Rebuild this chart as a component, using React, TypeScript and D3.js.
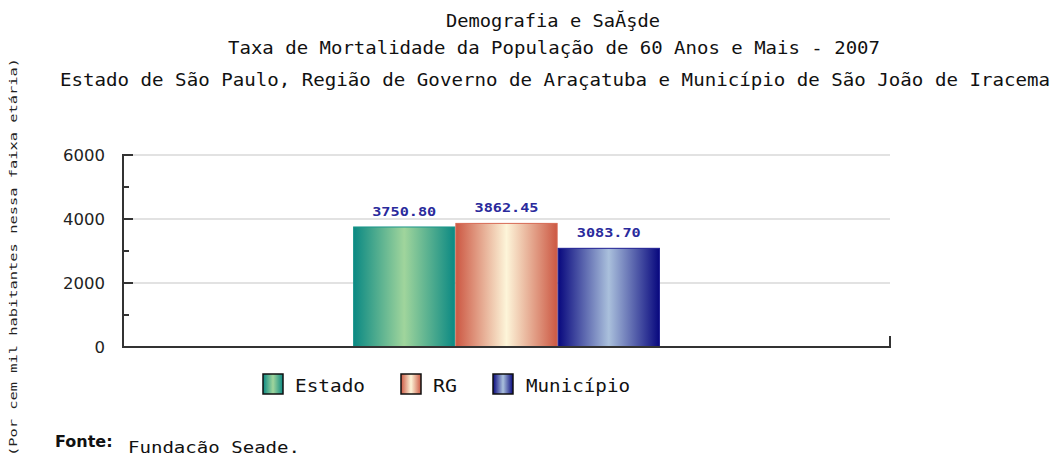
import React from "react";
import * as d3 from "d3";

const series = ["Estado", "RG", "Município"];
const values = [3750.8, 3862.45, 3083.7];
const valueLabels = ["3750.80", "3862.45", "3083.70"];
const yTicks = [0, 2000, 4000, 6000];
const yMinorTicks = [1000, 3000, 5000];
const titles = [
  "Demografia e SaĂşde",
  "Taxa de Mortalidade da População de 60 Anos e Mais - 2007",
  "Estado de São Paulo, Região de Governo de Araçatuba e Município de São João de Iracema",
];
const yLabel = "(Por cem mil habitantes nessa faixa etária)";
const source = "Fundacão Seade.";

const gradients = [
  { id: "g0", edge: "#0b8983", mid: "#a0d59c", stroke: "#1a968b" },
  { id: "g1", edge: "#cc5843", mid: "#fdf5d9", stroke: "#d66a55" },
  { id: "g2", edge: "#08087e", mid: "#aac0dc", stroke: "#1c1c92" },
];

const W = 1053;
const H = 457;
const plot = { left: 123, right: 890, top: 155, bottom: 347 };
const mono = "'DejaVu Sans Mono', monospace";
const sans = "'DejaVu Sans', Verdana, sans-serif";

export default function App() {
  const y = d3.scaleLinear().domain([0, 6000]).range([plot.bottom, plot.top]);
  const pw = plot.right - plot.left;
  const gw = pw * 0.4;
  const gx0 = plot.left + (pw - gw) / 2;
  const x = d3.scaleBand<string>().domain(series).range([gx0, gx0 + gw]).padding(0);

  const titleLayout = [
    { x: 446, y: 27, len: 214 },
    { x: 228, y: 54, len: 652 },
    { x: 60, y: 86, len: 990 },
  ];
  const legendLayout = [
    { sx: 263, tx: 295, len: 70 },
    { sx: 401, tx: 433, len: 24 },
    { sx: 493, tx: 526, len: 104 },
  ];

  return (
    <svg
      width={W}
      height={H}
      style={{ position: "absolute", left: 0, top: 0, background: "#fff" }}
    >
      <defs>
        {gradients.map((g) => (
          <linearGradient key={g.id} id={g.id} x1="0" x2="1" y1="0" y2="0">
            <stop offset="0" stopColor={g.edge} />
            <stop offset="0.5" stopColor={g.mid} />
            <stop offset="1" stopColor={g.edge} />
          </linearGradient>
        ))}
      </defs>

      {titles.map((t, i) => (
        <text
          key={i}
          x={titleLayout[i].x}
          y={titleLayout[i].y}
          textLength={titleLayout[i].len}
          lengthAdjust="spacingAndGlyphs"
          fontFamily={mono}
          fontSize={17}
          fill="#111"
        >
          {t}
        </text>
      ))}

      <text
        transform="translate(17,257) rotate(-90)"
        textAnchor="middle"
        textLength={398}
        lengthAdjust="spacingAndGlyphs"
        fontFamily={mono}
        fontSize={11}
        fill="#222"
      >
        {yLabel}
      </text>

      {/* gridlines */}
      {yTicks
        .filter((t) => t > 0)
        .map((t) => (
          <line
            key={t}
            x1={plot.left}
            x2={plot.right}
            y1={y(t)}
            y2={y(t)}
            stroke="#e2e2e2"
            strokeWidth={2}
          />
        ))}

      {/* bars */}
      {series.map((s, i) => (
        <rect
          key={s}
          x={x(s)! + 0.5}
          y={y(values[i])}
          width={x.bandwidth() - 1}
          height={plot.bottom - y(values[i])}
          fill={`url(#${gradients[i].id})`}
          stroke={gradients[i].stroke}
          strokeWidth={1}
        />
      ))}

      {/* value labels */}
      {series.map((s, i) => (
        <text
          key={s}
          x={x(s)! + x.bandwidth() / 2}
          y={y(values[i]) - 11}
          textAnchor="middle"
          textLength={64}
          lengthAdjust="spacingAndGlyphs"
          fontFamily={mono}
          fontWeight="bold"
          fontSize={12}
          fill="#2a2a9c"
        >
          {valueLabels[i]}
        </text>
      ))}

      {/* axes */}
      <line x1={plot.left} x2={plot.left} y1={plot.top - 1} y2={plot.bottom + 1} stroke="#333" strokeWidth={2} />
      <line x1={plot.left - 1} x2={plot.right + 1} y1={plot.bottom} y2={plot.bottom} stroke="#333" strokeWidth={2} />
      <line x1={plot.right} x2={plot.right} y1={plot.bottom - 11} y2={plot.bottom} stroke="#333" strokeWidth={2} />
      {yTicks.map((t) => (
        <g key={t}>
          <line x1={plot.left} x2={plot.left + 10} y1={y(t)} y2={y(t)} stroke="#333" strokeWidth={2} />
          <text
            x={105}
            y={y(t) + 6}
            textAnchor="end"
            fontFamily={sans}
            fontSize={16.5}
            fill="#222"
          >
            {t}
          </text>
        </g>
      ))}
      {yMinorTicks.map((t) => (
        <line key={t} x1={plot.left} x2={plot.left + 6} y1={y(t)} y2={y(t)} stroke="#333" strokeWidth={2} />
      ))}

      {/* legend */}
      {series.map((s, i) => (
        <g key={s}>
          <rect
            x={legendLayout[i].sx}
            y={374}
            width={20}
            height={20}
            fill={`url(#${gradients[i].id})`}
            stroke="#111"
            strokeWidth={1.5}
          />
          <text
            x={legendLayout[i].tx}
            y={392}
            textLength={legendLayout[i].len}
            lengthAdjust="spacingAndGlyphs"
            fontFamily={mono}
            fontSize={17}
            fill="#111"
          >
            {s}
          </text>
        </g>
      ))}

      {/* source */}
      <text x={55} y={447} fontFamily={sans} fontWeight="bold" fontSize={16} fill="#111">
        Fonte:
      </text>
      <text
        x={128}
        y={453}
        textLength={172}
        lengthAdjust="spacingAndGlyphs"
        fontFamily={mono}
        fontSize={16}
        fill="#111"
      >
        {source}
      </text>
    </svg>
  );
}
